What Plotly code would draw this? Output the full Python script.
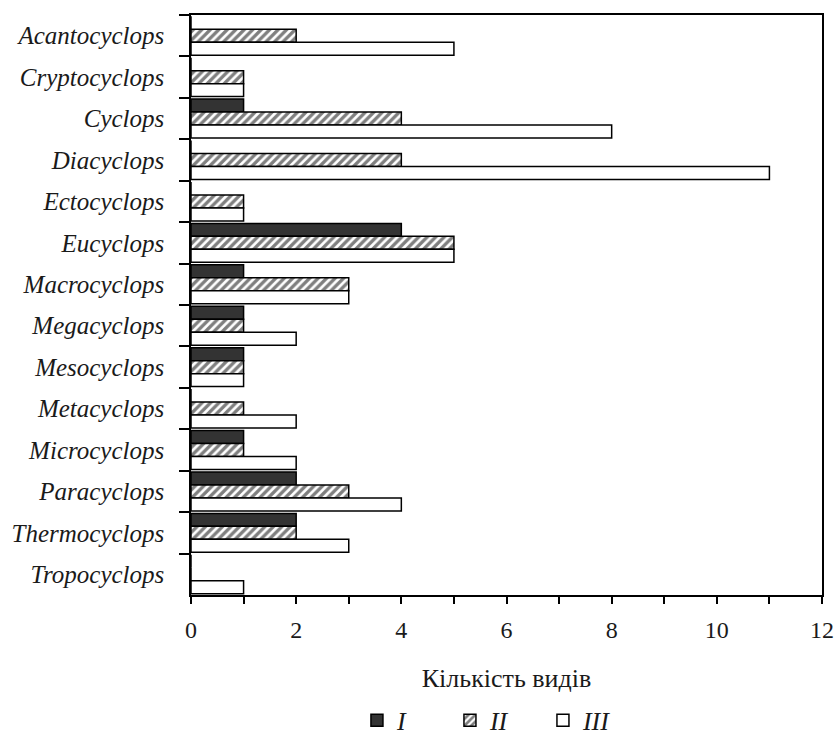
import plotly.graph_objects as go

genera = ["Acantocyclops", "Cryptocyclops", "Cyclops", "Diacyclops", "Ectocyclops",
          "Eucyclops", "Macrocyclops", "Megacyclops", "Mesocyclops", "Metacyclops",
          "Microcyclops", "Paracyclops", "Thermocyclops", "Tropocyclops"]
series_I = [0, 0, 1, 0, 0, 4, 1, 1, 1, 0, 1, 2, 2, 0]
series_II = [2, 1, 4, 4, 1, 5, 3, 1, 1, 1, 1, 3, 2, 0]
series_III = [5, 1, 8, 11, 1, 5, 3, 2, 1, 2, 2, 4, 3, 1]
series_names = ["I", "II", "III"]
x_ticks = [0, 2, 4, 6, 8, 10, 12]

labels = ["<i>%s</i>" % g for g in genera]
font_family = "Liberation Serif"

fig = go.Figure()
fig.add_trace(go.Bar(
    y=labels, x=series_I, orientation="h", name="<i>%s</i>" % series_names[0],
    marker=dict(color="#333333", line=dict(color="black", width=1.5)),
))
fig.add_trace(go.Bar(
    y=labels, x=series_II, orientation="h", name="<i>%s</i>" % series_names[1],
    marker=dict(color="white", line=dict(color="black", width=1.5),
                pattern=dict(shape="/", fgcolor="#000000", bgcolor="white",
                             size=6, solidity=0.55)),
))
fig.add_trace(go.Bar(
    y=labels, x=series_III, orientation="h", name="<i>%s</i>" % series_names[2],
    marker=dict(color="white", line=dict(color="black", width=1.5)),
))

fig.update_layout(
    width=837, height=738,
    margin=dict(l=191, r=15, t=15, b=143),
    paper_bgcolor="white", plot_bgcolor="white",
    barmode="group", bargap=0.06, bargroupgap=0,
    font=dict(family=font_family, size=24, color="#1a1a1a"),
    showlegend=True,
    legend=dict(orientation="h", x=0.263, xanchor="left",
                yref="container", y=0.024, yanchor="middle",
                font=dict(family=font_family, size=26), itemwidth=30,
                entrywidth=48, entrywidthmode="pixels",
                traceorder="normal"),
    xaxis=dict(range=[0, 12], tickvals=x_ticks, ticks="outside", ticklen=7,
               tickwidth=1.5, tickcolor="black", showline=True, linecolor="black",
               linewidth=1.5, mirror=True, showgrid=False, zeroline=False,
               automargin=False, ticklabelstandoff=5,
               minor=dict(dtick=1, ticks="outside", ticklen=7, tickwidth=1.5,
                          tickcolor="black"),
               title=dict(text="Кількість видів", font=dict(size=26), standoff=27),
               tickfont=dict(size=24)),
    yaxis=dict(autorange="reversed", ticks="outside", ticklen=10, tickwidth=1.5,
               tickcolor="black", tickson="boundaries", showline=True,
               linecolor="black", linewidth=1.5, mirror=True, showgrid=False,
               automargin=False,
               ticklabelstandoff=20, tickfont=dict(size=25)),
)

fig.write_html("out.html", config={"displayModeBar": False},
               post_script="document.body.style.margin='0';document.body.style.overflow='hidden';")
